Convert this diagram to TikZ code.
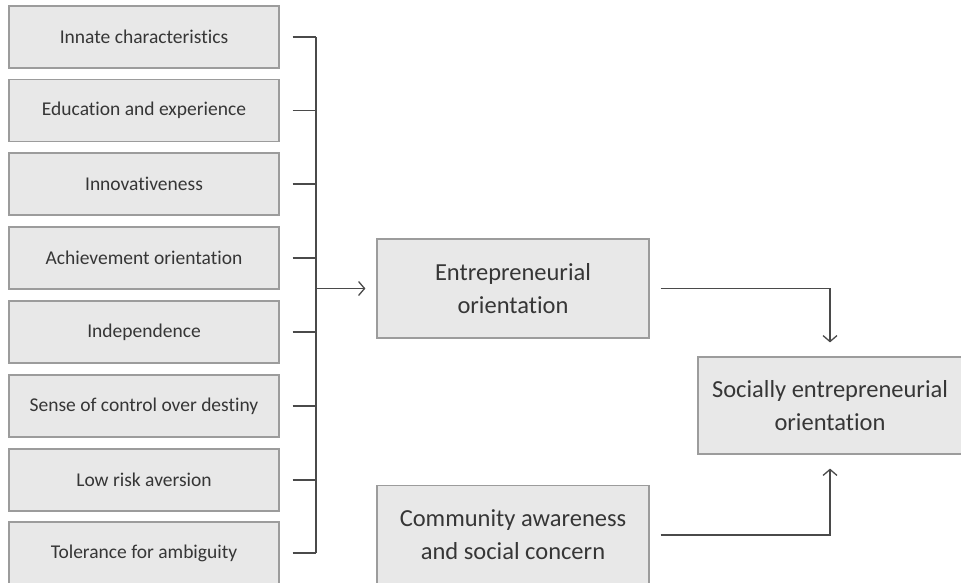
\documentclass[tikz,border=0pt]{standalone}
\usepackage{fontspec}
\setmainfont{Carlito}[Ligatures={NoCommon}]
\usetikzlibrary{arrows.meta}
\definecolor{boxfill}{HTML}{E8E8E8}
\definecolor{boxline}{HTML}{9C9C9C}
\definecolor{txt}{HTML}{363636}
\definecolor{conn}{HTML}{4A4A4A}
\begin{document}
\begin{tikzpicture}[x=1pt,y=-1pt,
  lbox/.style={draw=boxline, line width=1.2pt, fill=boxfill, text=txt,
    minimum width=270pt, minimum height=62pt, inner sep=0pt,
    font=\fontsize{19.5}{22}\selectfont},
  bbox/.style={draw=boxline, line width=1.2pt, fill=boxfill, text=txt,
    align=center, inner sep=0pt, font=\fontsize{24.5}{33}\selectfont},
  conline/.style={draw=conn, line width=1.5pt},
  tip/.style={-{Straight Barb[length=6pt,width=14pt,line width=1.3pt]}}
]
\useasboundingbox (0,0) rectangle (961,582);
\node[lbox] (b1) at (144,37) {Innate characteristics};
\node[lbox] (b2) at (144,110.5) {Education and experience};
\node[lbox] (b3) at (144,184) {Innovativeness};
\node[lbox] (b4) at (144,258) {Achievement orientation};
\node[lbox] (b5) at (144,332) {Independence};
\node[lbox] (b6) at (144,406) {Sense of control over destiny};
\node[lbox] (b7) at (144,480) {Low risk aversion};
\node[lbox] (b8) at (144,553) {Tolerance for ambiguity};
\node[bbox, minimum width=272pt, minimum height=99pt] (eo) at (513,288.5) {Entrepreneurial\\orientation};
\node[bbox, minimum width=272pt, minimum height=99pt] (ca) at (513,535) {Community awareness\\and social concern};
\node[bbox, minimum width=264pt, minimum height=97pt] (seo) at (830,405.5) {Socially entrepreneurial\\orientation};
\coordinate (vtop) at (316,37);
\coordinate (vbot) at (316,553);
\foreach \b in {b1,b2,b3,b4,b5,b6,b7,b8} {
  \draw[conline] ([xshift=13pt]\b.east) -- (316,0 |- \b.east);
}
\draw[conline] (vtop) -- (vbot);
\draw[conline, tip] (316,288.5) -- ([xshift=-11pt]eo.west);
\draw[conline, tip] ([xshift=11pt]eo.east) -| ([yshift=14pt]seo.north);
\draw[conline, tip] ([xshift=11pt]ca.east) -| ([yshift=-14pt]seo.south);
\end{tikzpicture}
\end{document}
